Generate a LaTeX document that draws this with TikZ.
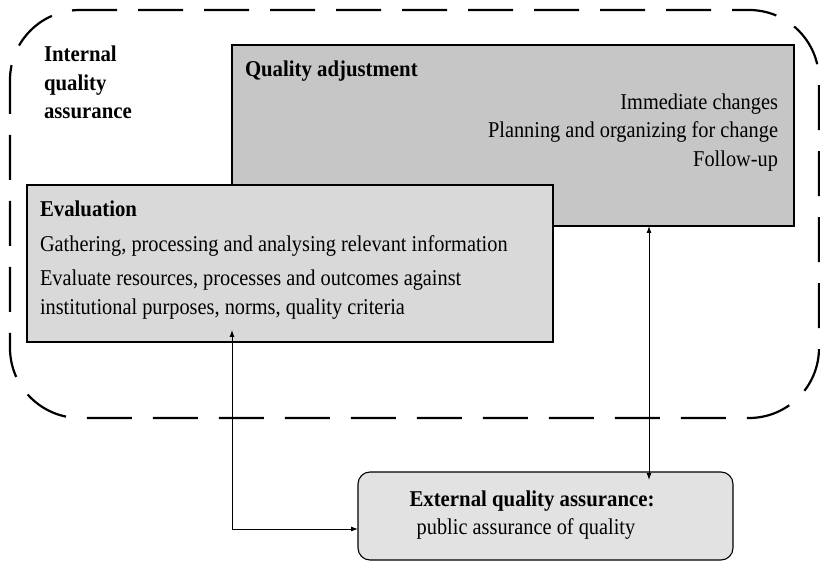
\documentclass[tikz,border=0pt]{standalone}
\usepackage{fontspec}
\setmainfont{Liberation Serif}[FakeStretch=0.9,BoldFeatures={FakeStretch=0.92}]
\usetikzlibrary{arrows.meta}
\definecolor{qagray}{HTML}{C6C6C6}
\definecolor{evgray}{HTML}{D9D9D9}
\definecolor{exgray}{HTML}{E2E2E2}
\begin{document}
\begin{tikzpicture}[x=1pt,y=-1pt,
  boxstyle/.style={draw=black,line width=1.1pt,anchor=north west,inner sep=0pt,outer sep=0pt},
  txt/.style={inner sep=0pt,outer sep=0pt,font=\fontsize{22.6}{28}\selectfont},
  btxt/.style={txt,font=\fontsize{22.6}{28}\selectfont\bfseries},
  arr/.style={line width=0.9pt,{Latex[length=7pt,width=5pt]}-{Latex[length=7pt,width=5pt]}},
  boundary/.style={line width=2.2pt,dash pattern=on 45pt off 21pt,rounded corners=70pt}]
\useasboundingbox (0,0) rectangle (820,561);
% dashed boundary
\draw[boundary] (10,180) -- (10,10) -- (819,10) -- (819,418) -- (10,418) -- cycle;
% boxes
\node[boxstyle,fill=qagray,minimum width=562pt,minimum height=181pt] (qa) at (232,45) {};
\node[boxstyle,fill=evgray,minimum width=526pt,minimum height=157pt] (ev) at (27,185) {};
\node[boxstyle,fill=exgray,rounded corners=12pt,minimum width=375pt,minimum height=88pt] (ex) at (358,472) {};
% texts
\node[btxt,anchor=base west] (iqa1) at (44,62) {Internal};
\node[btxt,anchor=base west] (iqa2) at (44,91) {quality};
\node[btxt,anchor=base west] (iqa3) at (44,119) {assurance};
\node[btxt,anchor=base west] (qat) at (245,77) {Quality adjustment};
\node[txt,anchor=base east] (qa1) at (778,110) {Immediate changes};
\node[txt,anchor=base east] (qa2) at (778,138) {Planning and organizing for change};
\node[txt,anchor=base east] (qa3) at (778,167) {Follow-up};
\node[btxt,anchor=base west] (evt) at (40,217) {Evaluation};
\node[txt,anchor=base west] (ev1) at (40,252) {Gathering, processing and analysing relevant information};
\node[txt,anchor=base west] (ev2) at (40,286) {Evaluate resources, processes and outcomes against};
\node[txt,anchor=base west] (ev3) at (40,315) {institutional purposes, norms, quality criteria};
\node[btxt,anchor=base] (ext) at (532,507) {External quality assurance:};
\node[txt,anchor=base] (ex1) at (526,534) {public assurance of quality};
% connectors
\coordinate (evtip) at (232,330);
\coordinate (exleft) at (358,529);
\coordinate (qatip) at (649,226);
\coordinate (extop) at (649,480);
\draw[arr] (evtip) |- (exleft);
\draw[arr] (qatip) -- (extop);
\end{tikzpicture}
\end{document}
